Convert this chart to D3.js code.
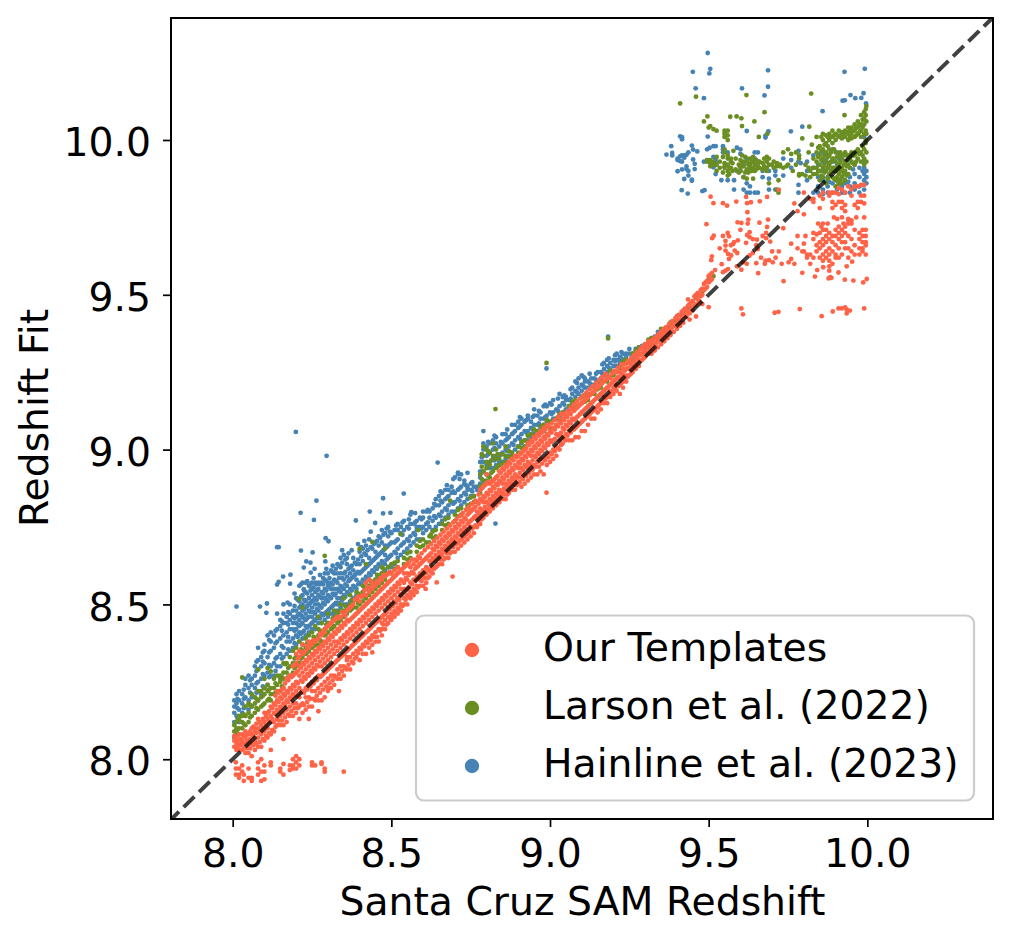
<!DOCTYPE html>
<html><head><meta charset="utf-8">
<script src="https://cdnjs.cloudflare.com/ajax/libs/d3/7.8.5/d3.min.js"></script>
<style>html,body{margin:0;padding:0;background:#fff}svg{display:block}text{font-family:"DejaVu Sans";fill:#000}</style>
</head><body><svg id="c" width="1012" height="941"></svg>
<script>
// every row: [x, y, y, y ...]  (all y values read at that x)
const hainline = [
[9.497,10.281],[9.45,10.22],[9.505,10.23],[9.502,10.215],[9.687,10.225],[9.928,10.22],[9.992,10.23],[9.459,10.167],[9.485,10.135],[9.605,10.167],[9.687,10.172],[9.676,10.144],[9.988,10.151],[9.947,10.145],[9.962,10.135],[9.981,10.136],[9.922,10.127],[9.929,10.128],[9.996,10.118],[9.859,10.093],[9.62,10.029],[9.688,10.028],[9.679,10.014,10.008],[9.759,10.028],[9.795,10.043],[9.497,10.011],
[9.367,9.953],[9.382,9.98],[9.385,9.958,9.95],[9.402,9.94,9.935,9.899],[9.41,10.012,9.947,9.932],[9.416,10.009,10.002,9.95,9.93,9.905],[9.423,9.943,9.95,9.874],[9.43,9.952,9.915,9.906],[9.436,9.96,9.885,9.9],[9.447,9.982,9.872,9.868],[9.451,9.969,9.937],[9.456,9.923,9.906],[9.464,9.963],[9.415,9.838],[9.434,9.827],[9.48,9.835],[9.487,9.838],
[9.485,9.93],[9.495,9.935,9.97],[9.503,9.975,9.93],[9.515,9.98,9.945,9.912],[9.522,9.98,9.94,9.93,9.89],[9.545,9.98,9.97,9.96],[9.54,9.87],[9.56,9.87,9.96],[9.58,9.87,9.84],[9.589,9.975,9.9],[9.6,9.97,9.955,9.915,9.9],[9.61,9.88,9.92,9.84],[9.62,9.86,9.83,9.94],[9.63,9.85,9.83,9.92],[9.645,9.96,9.94,9.83],[9.655,9.96,9.93,9.83],[9.67,9.9,9.88],[9.69,9.875,9.84,9.9],[9.71,9.885,9.84,9.9],[9.735,9.94,9.885],[9.76,9.935,9.91],[9.783,9.965,9.93,9.855,9.83],[9.79,9.925],[9.81,9.93,9.9,9.87],[9.83,9.95,9.91,9.83],[9.845,9.955,9.92,9.88,9.85,9.83],[9.86,9.96,9.93,9.9,9.87,9.84,9.825],[9.875,9.95,9.91,9.88,9.85,9.83],[9.89,9.97,9.93,9.9,9.86,9.83],[9.905,9.96,9.92,9.87,9.84],[9.92,9.95,9.9,9.88,9.85,9.83],[9.93,9.93,9.89,9.86,9.83],[9.945,9.95,9.91,9.88,9.85,9.83],[9.96,9.92,9.89,9.86,9.84],[9.975,9.96,9.91,9.88,9.85,9.83],[9.99,10.01,9.93,9.91,9.89,9.87,9.84],[9.997,9.9,9.88,9.86],
[8.199,9.057],[8.296,8.98],[8.264,8.835],[8.214,8.796],[8.256,8.773],[8.474,8.843],[8.539,8.858],[8.432,8.8],[8.474,8.794],[8.497,8.796],[8.388,8.771],[8.449,8.763],[8.563,8.798],[8.012,8.493],[8.086,8.493],[8.108,8.503],[8.106,8.473],[8.173,8.506],[8.14,8.685],[8.145,8.685],[8.215,8.674],[8.252,8.668],[8.293,8.714],[8.302,8.704],[8.292,8.639],[8.232,8.639],[8.245,8.635],[8.224,8.619],[8.258,8.615],[8.246,8.603],[8.159,8.59],[8.182,8.596],[8.145,8.573],[8.14,8.564],[8.181,8.567],[8.224,8.549],[8.828,8.761],[8.79,9.06],[8.646,8.958],[8.71,8.926],[8.72,8.92],[8.74,8.925],[8.948,9.16],[8.989,9.262],[9.183,9.365],
[8.005,8.12,8.15,8.17,8.19],[8.012,8.14,8.18,8.21],[8.02,8.12,8.16,8.19,8.22],[8.03,8.15,8.18,8.21],[8.04,8.14,8.17,8.2,8.24,8.26],[8.05,8.16,8.19,8.23,8.27],[8.06,8.17,8.2,8.24,8.26],[8.07,8.2,8.23,8.27,8.3],[8.08,8.19,8.22,8.25,8.29,8.32,8.36],[8.09,8.21,8.26,8.3,8.33],[8.1,8.23,8.27,8.31,8.35,8.37],[8.11,8.24,8.28,8.33,8.4],[8.12,8.27,8.3,8.35,8.38,8.41],[8.13,8.27,8.31,8.36,8.4],[8.14,8.3,8.33,8.38,8.42,8.47],[8.15,8.3,8.34,8.39,8.43,8.45],[8.16,8.33,8.36,8.4,8.44,8.47,8.5],[8.17,8.34,8.38,8.41,8.44,8.46],[8.18,8.35,8.38,8.42,8.45,8.47,8.5],[8.19,8.36,8.39,8.42,8.44,8.46,8.48],[8.2,8.37,8.4,8.42,8.44,8.46,8.48,8.52],[8.21,8.38,8.41,8.43,8.45,8.47,8.49,8.51,8.56],[8.22,8.39,8.41,8.44,8.46,8.48,8.5,8.53,8.57],[8.23,8.4,8.43,8.45,8.47,8.49,8.51,8.54,8.57],[8.24,8.41,8.43,8.46,8.48,8.5,8.52,8.56],[8.25,8.42,8.44,8.46,8.49,8.51,8.53,8.55,8.57],[8.26,8.42,8.45,8.47,8.5,8.52,8.54,8.57],[8.27,8.44,8.46,8.48,8.5,8.53,8.55,8.57],[8.28,8.44,8.47,8.49,8.52,8.54,8.57],[8.29,8.45,8.47,8.5,8.52,8.55,8.58,8.6],[8.3,8.46,8.48,8.51,8.53,8.56,8.57,8.6],[8.31,8.47,8.49,8.52,8.55,8.57,8.61],[8.32,8.47,8.5,8.53,8.55,8.58,8.6],[8.33,8.48,8.5,8.52,8.55,8.57,8.6,8.63],[8.34,8.49,8.52,8.54,8.56,8.6,8.62,8.65],[8.35,8.5,8.53,8.55,8.58,8.6,8.66],[8.36,8.5,8.54,8.56,8.59,8.63,8.65],[8.37,8.51,8.55,8.58,8.6,8.62],[8.38,8.52,8.56,8.59,8.61,8.65],[8.39,8.53,8.55,8.58,8.6,8.63],[8.4,8.53,8.57,8.6,8.63,8.67],[8.41,8.54,8.58,8.61,8.64,8.68],[8.42,8.55,8.59,8.62,8.66,8.69],[8.43,8.56,8.6,8.63,8.65,8.71],[8.44,8.57,8.61,8.64,8.68],[8.45,8.58,8.62,8.65,8.67,8.7],[8.46,8.59,8.63,8.66,8.69,8.72],[8.47,8.6,8.64,8.67,8.7,8.74],[8.48,8.61,8.63,8.66,8.69,8.73],[8.49,8.62,8.65,8.69,8.72,8.75],[8.5,8.62,8.66,8.7,8.73],[8.51,8.63,8.67,8.7,8.74],[8.52,8.65,8.68,8.71,8.74,8.76],[8.53,8.66,8.69,8.73,8.75],[8.54,8.67,8.7,8.74,8.77],[8.55,8.68,8.71,8.75],[8.56,8.69,8.72,8.76,8.79],[8.57,8.7,8.73,8.76],[8.58,8.71,8.74,8.77,8.75],[8.59,8.71,8.75,8.78],[8.6,8.73,8.75,8.78,8.8],[8.61,8.74,8.76,8.8],[8.62,8.75,8.78,8.8],[8.63,8.74,8.77,8.81],[8.64,8.75,8.78,8.82,8.84],[8.65,8.76,8.79,8.82,8.85],[8.66,8.77,8.8,8.83,8.86],[8.67,8.78,8.81,8.84,8.87],[8.68,8.79,8.82,8.85,8.87],[8.69,8.8,8.83,8.86,8.88],[8.7,8.8,8.83,8.86,8.91],[8.71,8.81,8.84,8.87,8.92],[8.72,8.82,8.85,8.88],[8.73,8.83,8.86,8.89,8.9],[8.74,8.84,8.87,8.88],[8.75,8.85,8.87,8.89],[8.76,8.85,8.88,8.85],[8.77,8.87,8.88],[8.78,8.89,8.91,8.93,8.96],[8.79,8.9,8.93,8.96,9,9.02],[8.8,8.92,8.95,8.98,9.01],[8.81,8.94,8.96,8.99,9.02],[8.82,8.94,8.97,9,9.03],[8.83,8.95,8.98,9.02,9.04],[8.84,8.96,8.98,9.01],[8.85,8.96,8.99,9.02,9.05],[8.86,8.97,9,9.03,9.05],[8.87,8.98,9.01,9.04],[8.88,8.99,9.02,9.05,9.08],[8.89,9,9.03,9.06,9.08],[8.9,9.01,9.04,9.07,9.09],[8.91,9.02,9.05,9.08,9.1],[8.92,9.03,9.06,9.09],[8.93,9.03,9.06,9.1,9.11],[8.94,9.04,9.07,9.09],[8.95,9.05,9.08,9.11,9.13],[8.96,9.06,9.08,9.11],[8.97,9.07,9.1,9.12],[8.98,9.08,9.1,9.14],[8.99,9.09,9.11,9.14],[9,9.09,9.12,9.15],[9.01,9.1,9.12,9.16],[9.02,9.1,9.13],[9.03,9.11,9.14,9.18],[9.04,9.12,9.15,9.17],[9.05,9.13,9.16,9.17],[9.06,9.14,9.16],[9.07,9.15,9.18,9.2],[9.08,9.17,9.19,9.22],[9.09,9.18,9.2,9.23],[9.1,9.19,9.21,9.24],[9.11,9.2,9.22,9.23],[9.12,9.2,9.22],[9.13,9.21,9.23],[9.14,9.21,9.23],[9.15,9.22,9.25],[9.16,9.23,9.25],[9.17,9.24,9.26,9.28],[9.18,9.25,9.27,9.29],[9.19,9.26,9.28],[9.2,9.27,9.29],[9.21,9.27,9.29,9.31],[9.22,9.28,9.3,9.29],[9.23,9.29,9.31],[9.24,9.3,9.31],[9.26,9.31,9.3],[9.28,9.33,9.31],[9.3,9.34,9.32],[9.31,9.35],[9.32,9.36,9.34],[9.34,9.37,9.38],[9.36,9.38],[9.38,9.41,9.39],[9.4,9.42,9.43],[9.42,9.44],[9.44,9.46]
];
const hainlineExtra = [
[8.015,8.135,8.165,8.195],[8.035,8.165,8.195,8.225],[8.055,8.175,8.215,8.255],[8.075,8.215,8.245,8.285,8.315],[8.095,8.235,8.275,8.315,8.345],[8.115,8.265,8.305,8.345,8.385],[8.135,8.285,8.325,8.375,8.415],[8.155,8.325,8.365,8.415,8.445],[8.175,8.355,8.395,8.435,8.475],[8.195,8.375,8.415,8.455,8.495,8.535],[8.205,8.395,8.435,8.465,8.515],[8.215,8.405,8.435,8.465,8.495,8.525,8.565],[8.225,8.415,8.455,8.485,8.515,8.545],[8.235,8.425,8.455,8.495,8.535,8.575],[8.245,8.435,8.475,8.505,8.545,8.565],[8.255,8.445,8.475,8.515,8.555,8.585],[8.265,8.455,8.485,8.515,8.545,8.565],[8.275,8.455,8.495,8.525,8.565,8.595],[8.285,8.465,8.505,8.535,8.565,8.585],[8.295,8.475,8.515,8.545,8.575,8.615],[8.305,8.485,8.525,8.555,8.585],[8.315,8.495,8.535,8.565,8.605,8.625],[8.325,8.505,8.535,8.575,8.615],[8.335,8.505,8.545,8.585,8.625],[8.345,8.515,8.555,8.585,8.635,8.675],[8.355,8.525,8.565,8.605,8.645],[8.365,8.535,8.575,8.615,8.665],[8.375,8.545,8.585,8.625,8.675],[8.385,8.555,8.595,8.635],[8.395,8.565,8.605,8.645,8.695],[8.405,8.565,8.605,8.655,8.685],[8.415,8.575,8.615,8.665,8.705],[8.425,8.585,8.625,8.675],[8.435,8.595,8.635,8.685,8.735],[8.445,8.605,8.645,8.695],[8.455,8.615,8.655,8.705],[8.465,8.625,8.665,8.715],[8.475,8.635,8.675,8.725],[8.485,8.645,8.685,8.745],[8.495,8.655,8.695,8.735],[8.515,8.665,8.705,8.755],[8.535,8.695,8.725,8.765],[8.555,8.705,8.745,8.775],[8.575,8.725,8.765,8.795],[8.595,8.745,8.775],[8.615,8.765,8.805],[8.635,8.785,8.825],[8.655,8.785,8.835,8.865],[8.675,8.805,8.845,8.885],[8.695,8.825,8.865,8.905],[8.715,8.835,8.875,8.905],[8.735,8.855,8.885],[8.755,8.865,8.895],[8.785,8.925,8.975],[8.805,8.945,8.985,9.025],[8.825,8.965,9.005,9.045],[8.845,8.985,9.025],[8.865,8.995,9.035,9.065],[8.885,9.015,9.055],[8.905,9.035,9.075,9.105],[8.925,9.055,9.095],[8.945,9.065,9.105],[8.965,9.085,9.125],[8.985,9.105,9.145],[9.005,9.115,9.145],[9.025,9.125,9.165],[9.045,9.145,9.175],[9.065,9.165,9.195],[9.085,9.185,9.215],[9.105,9.205,9.235],[9.125,9.215,9.245],[9.145,9.225,9.245],[9.165,9.245,9.275],[9.185,9.265,9.295],[9.205,9.285,9.305],[9.225,9.295,9.315],[9.25,9.31,9.325],[9.27,9.325],[9.29,9.335],[9.33,9.365],[9.37,9.395],[9.41,9.435],[9.43,9.455],
[9.87,9.935,9.865],[9.88,9.925,9.865],[9.91,9.94,9.855],[9.94,9.935,9.865],[9.955,9.905,9.845],[9.985,9.9,9.855]
];
const larson = [
[9.41,10.118],[9.46,10.14],[9.619,10.145],[9.823,10.15],[9.928,10.08],[9.496,10.076],[9.568,10.075],[9.588,10.076],[9.603,10.07],[9.644,10.06],[9.676,10.09],[9.485,10.06],[9.5,10.04],[9.505,10.045],[9.515,10.035],[9.525,10.03],[9.55,10.03,10.02,10.01],[9.56,10.03,10.015,10],[9.605,10.045],[9.658,10.01],[9.685,10.02],[9.795,10.005],[9.817,10.043],[9.55,9.97,9.96],[9.56,9.95],[9.57,9.94,9.93,9.91],[9.578,9.965],[9.495,9.935,9.93],[9.505,9.925,9.915,9.935],[9.515,9.93,9.92],[9.55,9.925,9.915,9.91],[9.56,9.94,9.92,9.9,9.885],[9.6,9.935,9.91,9.9],[9.61,9.93,9.915,9.88],[9.62,9.93,9.905,9.875],[9.63,9.94,9.92,9.91],[9.64,9.945,9.93,9.91,9.875],[9.66,9.93,9.91],[9.683,9.945,9.93,9.91,9.9],[9.69,9.94,9.92,9.86],[9.7,9.92],[9.715,9.925,9.915,9.84],[9.72,9.87,9.83],[9.735,9.96,9.91],[9.75,9.97,9.92],[9.76,9.955],[9.765,9.9],[9.785,9.95,9.94,9.89,9.885],[9.795,9.89],[9.82,9.9,9.88],[9.825,9.985],[9.84,10.01,9.96,9.93,9.91,9.89],[9.85,9.98,9.95,9.92,9.9,9.87],[9.86,10.02,10,9.97,9.94,9.91,9.88],[9.87,10.015,9.99,9.96,9.93,9.9,9.86],[9.88,10.02,10,9.97,9.95,9.92,9.89],[9.89,10.03,10.01,9.99,9.94,9.91,9.88],[9.9,10.02,10,9.96,9.93,9.9,9.87,9.85],[9.91,10.03,10.01,9.95,9.92,9.89,9.86],[9.92,10.025,10.005,9.94,9.91,9.88,9.86],[9.93,10.03,10.01,9.96,9.93,9.9,9.87],[9.94,10.04,10.02,10,9.95,9.92,9.89],[9.95,10.04,10.02,10.005,9.96,9.93],[9.96,10.05,10.03,10.01,9.95,9.92],[9.97,10.06,10.04,10.02,9.97,9.94],[9.98,10.08,10.05,10.03,10.01,9.96,9.93],[9.99,10.09,10.07,10.05,10.02,9.97,9.94,9.92],[9.995,10.1,10.08,10.03,10,9.99],
[8.624,8.725],[8.685,8.835],[8.828,9.131],[8.989,9.28],[9.183,9.359],[8.11,8.295],[8.21,8.518],[8.29,8.657],[8.44,8.702],[8.585,8.74],[8.529,8.727],[8.1,8.26],[8.03,8.264],[8.15,8.27],[8.12,8.284],[8.165,8.307],[8.08,8.29],[8.22,8.49],[8.27,8.46],[8.4,8.68],[8.48,8.68],[8.42,8.63],[8.61,8.7],
[8.005,8.07,8.09,8.11],[8.012,8.08,8.1,8.12],[8.02,8.08,8.1,8.13,8.14],[8.03,8.1,8.12,8.14],[8.04,8.11,8.14,8.17],[8.05,8.12,8.15,8.18],[8.06,8.14,8.17,8.21],[8.07,8.15,8.18,8.2],[8.08,8.16,8.19,8.22],[8.09,8.17,8.2,8.22],[8.1,8.18,8.21,8.23],[8.11,8.19,8.22,8.24],[8.12,8.19,8.21,8.23],[8.13,8.21,8.23,8.26],[8.14,8.22,8.24,8.27],[8.15,8.22,8.25,8.26],[8.16,8.23,8.26,8.28,8.31],[8.17,8.26,8.28,8.31],[8.18,8.27,8.3,8.33],[8.19,8.28,8.31,8.35],[8.2,8.3,8.33,8.36],[8.21,8.31,8.33,8.38],[8.22,8.33,8.35,8.37],[8.23,8.34,8.36,8.39],[8.24,8.35,8.37,8.4],[8.25,8.36,8.38,8.41],[8.26,8.37,8.39,8.43],[8.27,8.37,8.4,8.42],[8.28,8.38,8.41,8.44],[8.29,8.4,8.42],[8.3,8.41,8.44,8.47],[8.31,8.42,8.44],[8.32,8.43,8.46,8.48],[8.33,8.44,8.47],[8.34,8.45,8.48,8.5],[8.35,8.46,8.48,8.52],[8.36,8.47,8.49],[8.37,8.48,8.5,8.53],[8.38,8.49,8.51],[8.39,8.49,8.52,8.54],[8.4,8.5,8.53],[8.41,8.51,8.54,8.56],[8.42,8.52,8.55],[8.43,8.53,8.56,8.58],[8.44,8.54,8.57],[8.45,8.55,8.58],[8.46,8.56,8.59],[8.47,8.57,8.6,8.62],[8.48,8.58,8.6],[8.49,8.6,8.62],[8.5,8.6,8.63],[8.52,8.62,8.64],[8.54,8.63,8.65],[8.56,8.65,8.67],[8.58,8.67,8.69],[8.6,8.69,8.71],[8.62,8.7,8.72],[8.64,8.72,8.74],[8.66,8.74,8.76],[8.68,8.76,8.78],[8.7,8.77,8.79],[8.72,8.79,8.81],[8.74,8.81,8.82],[8.76,8.83,8.85],[8.78,8.86,8.88,8.92],[8.79,8.89,8.93,8.98,9.01],[8.8,8.9,8.94,8.96,9],[8.81,8.91,8.95,8.99],[8.82,8.93,8.98,9.02],[8.83,8.94,8.97,9],[8.84,8.95,8.97],[8.86,8.96,8.98,9.01],[8.88,8.98,8.99],[8.9,8.99,9.01],[8.92,9.01,9.03],[8.94,9.03,9.05],[8.96,9.05,9.06],[8.98,9.06,9.08],[9,9.07,9.09],[9.02,9.08,9.1],[9.04,9.1,9.12],[9.06,9.12,9.14],[9.08,9.14,9.16],[9.1,9.15,9.17],[9.12,9.16,9.18],[9.14,9.18,9.2],[9.16,9.2,9.22],[9.18,9.22,9.24],[9.2,9.24,9.25],[9.22,9.26,9.27],[9.24,9.28,9.29],[9.26,9.29,9.31],[9.28,9.31,9.33],[9.3,9.33,9.34],[9.32,9.34,9.36],[9.34,9.36,9.37],[9.36,9.38,9.39],[9.38,9.4,9.41],[9.4,9.42],[9.42,9.44,9.43],[9.44,9.46],[9.46,9.49],[9.48,9.51],[9.5,9.55],[9.515,9.56]
];
const larsonExtra = [
[8.015,8.095,8.125],[8.035,8.115,8.145],[8.055,8.135,8.175],[8.075,8.165,8.195],[8.095,8.175,8.205],[8.115,8.195,8.225],[8.135,8.215,8.245],[8.155,8.235,8.265],[8.175,8.265,8.295],[8.195,8.295,8.325],[8.215,8.325,8.355],[8.235,8.345,8.375],[8.255,8.365,8.395],[8.275,8.385,8.415],[8.295,8.405,8.435],[8.315,8.425,8.455],[8.335,8.445,8.475],[8.355,8.465,8.495],[8.375,8.485,8.515],[8.395,8.505,8.535],[8.415,8.525,8.555],[8.435,8.545,8.575],[8.455,8.565,8.595],[8.475,8.585,8.615],[8.51,8.615,8.635],[8.55,8.645,8.665],[8.59,8.685,8.705],[8.63,8.715,8.735],[8.67,8.755,8.775],[8.71,8.785,8.805],[8.75,8.825,8.845],[8.785,8.875,8.905,8.945,8.985],[8.805,8.915,8.955,8.995],[8.815,8.925,8.965],[8.835,8.945,8.985],[8.85,8.955,8.985],[8.87,8.975,8.995],[8.91,9.005,9.025],[8.93,9.025,9.045],[8.95,9.045,9.065],[8.97,9.055,9.075],[8.99,9.075,9.095],[9.03,9.095,9.115],[9.07,9.135,9.155],[9.11,9.155,9.175],[9.15,9.195,9.215],[9.19,9.235,9.255],[9.23,9.275,9.285],[9.27,9.305,9.32],[9.31,9.34,9.355],[9.35,9.375,9.39],[9.39,9.415],
[9.525,9.945,9.92,9.9],[9.535,9.93,9.91],[9.545,9.945,9.895],[9.565,9.91,9.89],[9.575,9.925,9.9],[9.585,9.94,9.905],[9.595,9.92,9.895],[9.605,9.95,9.925],[9.615,9.945,9.895],[9.625,9.92,9.895],[9.635,9.93,9.9],[9.645,9.92,9.9],[9.65,9.935,9.905],[9.655,9.915,9.925],[9.67,9.925,9.905],[9.675,9.94,9.915],[9.705,9.93,9.91],[9.725,9.915,9.92],[9.745,9.915],[9.775,9.92,9.96],[9.805,9.885,9.92],[9.815,9.96,9.91],[9.83,9.94,9.91,9.89],
[9.845,9.975,9.945,9.9],[9.855,10.01,9.965,9.935,9.885],[9.865,9.985,9.95,9.92,9.895],[9.875,10.01,9.98,9.945,9.91,9.875],[9.885,10.01,9.96,9.93,9.9],[9.895,10.015,9.97,9.94,9.91,9.875],[9.905,10.015,9.945,9.91,9.88],[9.915,10.015,9.96,9.93,9.9,9.87],[9.925,10.02,9.95,9.92,9.89],[9.935,10.025,9.95,9.915,9.885],[9.945,10.03,10.01,9.94,9.91],[9.955,10.03,9.95,9.925],[9.965,10.04,10.015,9.96,9.93],[9.975,10.05,10.025,9.955],[9.985,10.065,10.04,9.98,9.95],[9.997,10.11,10.06,10.02,9.96,9.93]
];
const templates = [
[9.506,9.817],[9.515,9.796],[9.545,9.796],[9.558,9.788],[9.587,9.801],[9.621,9.796],[9.633,9.799],[9.618,9.816],[9.661,9.802],[9.684,9.816],[9.721,9.839],[9.622,9.767],[9.493,9.728],[9.591,9.734],[9.603,9.732],[9.625,9.743],[9.623,9.73],[9.66,9.733],[9.687,9.743],[9.684,9.719],[9.735,9.715],[9.516,9.691],[9.511,9.683],[9.56,9.7],[9.564,9.689],[9.629,9.702],[9.621,9.693],[9.681,9.7],[9.629,9.686],[9.639,9.68],[9.652,9.678],[9.553,9.674,9.659,9.643],[9.58,9.67],[9.592,9.676],[9.577,9.664],[9.618,9.668],[9.681,9.683],[9.694,9.672],[9.561,9.632],[9.582,9.643],[9.59,9.635],[9.655,9.648],[9.639,9.635],[9.629,9.627],[9.608,9.605],[9.51,9.624],[9.508,9.612],[9.564,9.616],[9.571,9.627],[9.62,9.6],[9.65,9.602],[9.677,9.6],[9.679,9.61],[9.69,9.612],[9.702,9.605],[9.711,9.62],[9.721,9.64],[9.752,9.605],[9.76,9.616],[9.541,9.599],[9.561,9.583],[9.545,9.573],[9.553,9.578],[9.589,9.592],[9.603,9.581],[9.656,9.57],[9.736,9.544],[9.795,9.571],[9.835,9.559],[9.861,9.589],[9.88,9.592],[9.88,9.578],[9.842,9.58],[9.909,9.572],[9.935,9.592],[9.952,9.607],[9.929,9.549],[9.956,9.546],[9.987,9.54],[9.998,9.551],[9.883,9.557],[9.878,9.553],[9.887,9.555],
[9.603,9.456],[9.608,9.437],[9.708,9.442],[9.72,9.445],[9.787,9.454],[9.856,9.431],[9.891,9.446],[9.909,9.456],[9.919,9.456],[9.93,9.459],[9.935,9.452],[9.945,9.449],[9.935,9.44],[9.99,9.456],
[9.77,9.795],[9.78,9.77],[9.8,9.83,9.76],[9.82,9.81],[9.83,9.81,9.8],[9.85,9.78,9.82],[9.86,9.83,9.81,9.73,9.71],[9.88,9.83,9.82],[9.89,9.8,9.83,9.78],[9.9,9.79,9.83],[9.91,9.8,9.845,9.825],[9.92,9.8,9.78,9.84,9.75],[9.93,9.83,9.79,9.77],[9.94,9.85,9.745,9.73],[9.95,9.84,9.82,9.74],[9.96,9.85,9.79],[9.97,9.85,9.8,9.78],[9.98,9.855,9.82,9.8],[9.99,9.855,9.82,9.795],
[9.76,9.665],[9.78,9.69,9.65],[9.8,9.665,9.64],[9.81,9.63,9.62],[9.82,9.63,9.6],[9.83,9.7,9.68,9.62],[9.84,9.695,9.66,9.64],[9.85,9.7,9.67,9.65,9.62],[9.86,9.68,9.66,9.63,9.61],[9.87,9.71,9.69,9.67,9.64,9.62],[9.88,9.7,9.68,9.65,9.63,9.61],[9.89,9.69,9.67,9.64,9.6],[9.9,9.71,9.69,9.66,9.63,9.62],[9.91,9.72,9.7,9.68,9.65,9.62],[9.92,9.71,9.69,9.67,9.63],[9.93,9.72,9.7,9.67,9.65],[9.94,9.74,9.69,9.65,9.62],[9.95,9.73,9.68,9.64],[9.96,9.71,9.66,9.63],[9.975,9.7,9.68,9.65,9.63],[9.985,9.71,9.69,9.67,9.65,9.64],[9.995,9.71,9.69,9.67,9.66,9.63],
[8.989,8.861],[8.693,8.59],[8.643,8.571],[8.608,8.55],[8.52,8.52],[8.36,8.33],[8.335,8.22],[8.47,8.4],[8.44,8.345],[8.395,8.342],[8.3,8.23],[8.27,8.155],[8.24,8.13],[8.16,8.065],[8.12,8.03],
[8.01,7.99,7.97,7.95],[8.02,7.97,7.95,7.94],[8.03,7.98,7.96],[8.035,7.93,7.95],[8.05,7.97,7.94],[8.06,7.94,7.93],[8.08,7.99,7.97,7.95],[8.09,8,7.96,7.93],[8.1,7.98,7.96,7.935],[8.12,7.98,7.99],[8.15,7.97,7.96],[8.16,7.985,7.95],[8.18,7.98,7.965],[8.19,8,7.98,7.97],[8.2,8.01,7.99,7.97],[8.21,8,7.98],[8.25,7.99,7.98],[8.26,7.98],[8.28,7.99,7.985],[8.29,7.97,7.96],[8.35,7.96],
[8.005,8.04,8.06,8.075],[8.012,8.03,8.05,8.07],[8.02,8.03,8.05,8.08],[8.03,8.03,8.05,8.08,8.06],[8.04,8.02,8.05,8.07,8.09],[8.05,8.02,8.05,8.08],[8.06,8.01,8.05,8.08,8.1],[8.07,8.03,8.06,8.09,8.1],[8.08,8.04,8.07,8.1,8.13],[8.09,8.04,8.08,8.11],[8.1,8.06,8.09,8.12,8.15],[8.11,8.07,8.1,8.13,8.15],[8.12,8.08,8.12,8.14,8.17],[8.13,8.09,8.12,8.15,8.18],[8.14,8.11,8.13,8.16,8.19,8.22],[8.15,8.11,8.14,8.17,8.2],[8.16,8.11,8.15,8.18,8.21,8.23],[8.17,8.12,8.16,8.19,8.22,8.26],[8.18,8.14,8.17,8.2,8.23,8.27],[8.19,8.14,8.18,8.21,8.24,8.27,8.3],[8.2,8.15,8.18,8.22,8.25,8.28,8.31,8.34],[8.21,8.13,8.17,8.2,8.23,8.27,8.3,8.33,8.35],[8.22,8.15,8.18,8.22,8.25,8.28,8.31,8.34,8.37],[8.23,8.16,8.2,8.23,8.26,8.29,8.32,8.35],[8.24,8.17,8.2,8.24,8.27,8.3,8.33,8.36,8.38],[8.25,8.17,8.22,8.25,8.28,8.31,8.34,8.37],[8.26,8.19,8.22,8.26,8.29,8.32,8.35,8.38],[8.27,8.19,8.23,8.27,8.3,8.33,8.36,8.39],[8.28,8.19,8.24,8.27,8.3,8.34,8.37,8.4],[8.29,8.2,8.25,8.28,8.31,8.35,8.38,8.41],[8.3,8.22,8.26,8.29,8.32,8.36,8.39,8.43],[8.31,8.23,8.27,8.3,8.33,8.37,8.4,8.44],[8.32,8.24,8.27,8.31,8.34,8.38,8.41,8.45],[8.33,8.26,8.29,8.32,8.35,8.38,8.42,8.46],[8.34,8.26,8.3,8.33,8.36,8.39,8.43,8.46],[8.35,8.27,8.3,8.34,8.37,8.4,8.44,8.47],[8.36,8.29,8.32,8.35,8.38,8.41,8.45,8.48],[8.37,8.29,8.33,8.36,8.39,8.42,8.45,8.49],[8.38,8.31,8.34,8.37,8.4,8.43,8.46,8.5],[8.39,8.33,8.35,8.38,8.41,8.44,8.47,8.52],[8.4,8.32,8.36,8.39,8.42,8.45,8.48,8.51],[8.41,8.34,8.37,8.4,8.43,8.46,8.49,8.53],[8.42,8.34,8.38,8.41,8.44,8.47,8.5,8.53,8.57],[8.43,8.36,8.39,8.42,8.45,8.48,8.51,8.54,8.58],[8.44,8.37,8.4,8.43,8.46,8.49,8.52,8.55,8.57],[8.45,8.38,8.41,8.44,8.47,8.5,8.53,8.56],[8.46,8.38,8.42,8.45,8.48,8.51,8.54,8.57],[8.47,8.42,8.44,8.46,8.49,8.52,8.55,8.58],[8.48,8.42,8.45,8.47,8.5,8.53,8.56,8.59],[8.49,8.44,8.46,8.49,8.51,8.54,8.57,8.6],[8.5,8.45,8.47,8.5,8.52,8.55,8.58,8.6],[8.51,8.46,8.48,8.51,8.53,8.56,8.59,8.61],[8.52,8.47,8.49,8.52,8.54,8.57,8.6,8.62],[8.53,8.48,8.5,8.53,8.55,8.58,8.61],[8.54,8.5,8.52,8.55,8.57,8.6,8.62],[8.55,8.5,8.53,8.55,8.58,8.6,8.63],[8.56,8.52,8.54,8.57,8.6,8.62],[8.57,8.53,8.55,8.58,8.6,8.63],[8.58,8.54,8.56,8.59,8.62,8.64],[8.59,8.56,8.58,8.6,8.63,8.65],[8.6,8.56,8.59,8.61,8.64],[8.61,8.57,8.6,8.62,8.65],[8.62,8.59,8.61,8.64,8.66],[8.63,8.6,8.62,8.65,8.68],[8.64,8.62,8.64,8.66,8.69],[8.65,8.63,8.65,8.67,8.7],[8.66,8.63,8.66,8.68,8.71],[8.67,8.65,8.67,8.69,8.72],[8.68,8.65,8.68,8.7,8.73],[8.69,8.67,8.69,8.71,8.74],[8.7,8.67,8.7,8.72,8.75],[8.71,8.68,8.7,8.73,8.76],[8.72,8.69,8.71,8.74,8.77],[8.73,8.7,8.72,8.75,8.78],[8.74,8.71,8.73,8.76,8.79],[8.75,8.72,8.75,8.77,8.8],[8.76,8.73,8.75,8.78,8.81],[8.77,8.75,8.78,8.8,8.83],[8.78,8.76,8.79,8.81,8.84,8.87],[8.79,8.78,8.8,8.83,8.85,8.88],[8.8,8.79,8.81,8.83,8.86,8.89,8.92],[8.81,8.8,8.82,8.84,8.87,8.89],[8.82,8.81,8.83,8.85,8.88,8.9],[8.83,8.82,8.84,8.86,8.89,8.91],[8.84,8.83,8.85,8.87,8.9,8.93],[8.85,8.84,8.86,8.89,8.91,8.94],[8.86,8.84,8.87,8.89,8.92,8.95],[8.87,8.86,8.88,8.9,8.93,8.96],[8.88,8.87,8.89,8.91,8.94,8.97],[8.89,8.87,8.9,8.92,8.95,8.98],[8.9,8.89,8.91,8.94,8.96,8.98],[8.91,8.88,8.91,8.94,8.97,8.99],[8.92,8.89,8.92,8.95,8.98,9],[8.93,8.9,8.94,8.96,8.99,9.02],[8.94,8.91,8.95,8.98,9,9.03],[8.95,8.92,8.95,8.98,9.01,9.04],[8.96,8.92,8.96,8.99,9.02,9.05],[8.97,8.93,8.97,9,9.03,9.06],[8.98,8.92,8.97,9.01,9.04,9.07],[8.99,8.95,8.98,9.02,9.05,9.08],[9,8.96,8.99,9.03,9.06],[9.01,8.97,9,9.03,9.07],[9.02,8.98,9.01,9.05,9.08],[9.03,9,9.03,9.05,9.09],[9.04,9.02,9.04,9.07,9.1],[9.05,9.03,9.05,9.08,9.11],[9.06,9.03,9.06,9.09,9.12],[9.07,9.03,9.07,9.1,9.13],[9.08,9.04,9.07,9.1,9.13],[9.09,9.04,9.08,9.11,9.14],[9.1,9.06,9.09,9.12,9.15],[9.11,9.06,9.1,9.13,9.16],[9.12,9.08,9.11,9.14,9.17],[9.13,9.1,9.12,9.15,9.18],[9.14,9.1,9.13,9.16,9.19],[9.15,9.12,9.14,9.17,9.2],[9.16,9.13,9.15,9.18,9.21],[9.17,9.15,9.17,9.19,9.22],[9.18,9.15,9.17,9.2,9.23],[9.19,9.17,9.19,9.21,9.23],[9.2,9.18,9.2,9.22,9.25],[9.21,9.19,9.21,9.23,9.25],[9.22,9.18,9.21,9.23,9.25],[9.23,9.2,9.22,9.24,9.26],[9.24,9.22,9.24,9.26],[9.25,9.24,9.26,9.28],[9.26,9.25,9.27],[9.27,9.26,9.28,9.3],[9.28,9.27,9.29,9.31],[9.29,9.29,9.31,9.33],[9.3,9.3,9.32,9.34],[9.31,9.31,9.33,9.35],[9.32,9.31,9.33,9.35],[9.33,9.32,9.34,9.36],[9.34,9.33,9.35,9.37],[9.35,9.34,9.36,9.38],[9.36,9.35,9.37,9.39],[9.37,9.36,9.38],[9.38,9.37,9.39],[9.39,9.38,9.4],[9.4,9.39,9.41,9.43],[9.41,9.4,9.42],[9.42,9.41,9.43,9.45],[9.43,9.43,9.45],[9.44,9.44,9.47,9.42],[9.45,9.45,9.48],[9.46,9.47,9.5,9.43],[9.47,9.48,9.5],[9.48,9.5,9.52,9.47],[9.49,9.52,9.54],[9.5,9.54,9.56,9.46],[9.51,9.55,9.57],[9.52,9.58]
];
const templatesExtra = [
[8.015,8.04,8.06],[8.025,8.045,8.065],[8.035,8.035,8.075],[8.045,8.035,8.06,8.08],[8.055,8.035,8.065,8.09],[8.065,8.045,8.075,8.105],[8.075,8.05,8.085,8.115],[8.085,8.055,8.09,8.12],[8.095,8.065,8.1,8.13],[8.105,8.075,8.11,8.14],[8.115,8.085,8.12,8.155],[8.125,8.095,8.13,8.165],[8.135,8.105,8.145,8.175,8.205],[8.145,8.125,8.155,8.185,8.215],[8.155,8.125,8.165,8.195,8.225],[8.165,8.135,8.175,8.205,8.245],[8.175,8.145,8.185,8.215,8.255],[8.185,8.155,8.195,8.225,8.265],[8.195,8.165,8.205,8.235,8.275,8.305],[8.205,8.165,8.205,8.245,8.285,8.325],[8.215,8.175,8.215,8.255,8.295,8.345],[8.225,8.175,8.215,8.265,8.305,8.345],[8.235,8.185,8.225,8.275,8.315,8.365],[8.245,8.195,8.235,8.285,8.325,8.375],[8.255,8.195,8.245,8.295,8.335,8.385],[8.265,8.205,8.255,8.305,8.345,8.385],[8.275,8.215,8.265,8.315,8.355,8.405],[8.285,8.225,8.275,8.325,8.365,8.415],[8.295,8.235,8.285,8.335,8.375,8.425],[8.305,8.245,8.295,8.345,8.385,8.435],[8.315,8.255,8.305,8.355,8.395,8.445],[8.325,8.265,8.315,8.365,8.405,8.455],[8.335,8.275,8.325,8.375,8.415,8.455],[8.345,8.285,8.335,8.385,8.425,8.475],[8.355,8.295,8.345,8.395,8.435,8.465],[8.365,8.305,8.355,8.405,8.445,8.485],[8.375,8.315,8.365,8.415,8.455,8.495],[8.385,8.325,8.375,8.425,8.465,8.515],[8.395,8.345,8.385,8.435,8.475,8.525],[8.405,8.355,8.395,8.445,8.485,8.525],[8.415,8.365,8.405,8.455,8.495,8.545],[8.425,8.375,8.415,8.465,8.505,8.555],[8.435,8.385,8.425,8.475,8.515,8.555],[8.445,8.395,8.435,8.485,8.525,8.565],[8.455,8.395,8.445,8.495,8.535,8.575],[8.465,8.415,8.455,8.505,8.545,8.585],[8.475,8.435,8.465,8.515,8.555,8.595],[8.485,8.435,8.475,8.525,8.565,8.595],[8.495,8.455,8.485,8.535,8.575,8.605],[8.505,8.465,8.495,8.545,8.585],[8.515,8.475,8.505,8.555,8.595],[8.525,8.485,8.515,8.565,8.605],[8.535,8.495,8.535,8.575,8.615],[8.545,8.515,8.545,8.585,8.625],[8.555,8.525,8.555,8.595,8.635],[8.565,8.535,8.565,8.605,8.645],[8.575,8.545,8.575,8.615,8.645],[8.585,8.555,8.585,8.625,8.655],[8.595,8.575,8.595,8.635,8.665],[8.605,8.585,8.605,8.645,8.675],[8.615,8.585,8.615,8.655,8.685],[8.625,8.605,8.635,8.665,8.695],[8.635,8.615,8.645,8.675,8.705],[8.645,8.625,8.655,8.685,8.715],[8.655,8.645,8.665,8.695,8.725],[8.665,8.645,8.675,8.705,8.735],[8.675,8.665,8.685,8.715,8.745],[8.685,8.665,8.695,8.725,8.755],[8.695,8.685,8.705,8.735,8.765],[8.705,8.695,8.715,8.745,8.775],[8.715,8.705,8.725,8.755,8.785],[8.725,8.715,8.735,8.765,8.795],[8.735,8.725,8.745,8.775,8.805],[8.745,8.735,8.765,8.795,8.815],[8.755,8.745,8.775,8.805,8.825],[8.765,8.755,8.785,8.815,8.835],[8.775,8.765,8.795,8.825,8.855],[8.785,8.775,8.805,8.835,8.875],[8.795,8.795,8.815,8.845,8.885],[8.805,8.805,8.825,8.855,8.895],[8.815,8.815,8.835,8.865,8.895],[8.825,8.825,8.845,8.875,8.905],[8.835,8.835,8.855,8.885,8.915],[8.845,8.845,8.865,8.895,8.925],[8.855,8.855,8.875,8.905,8.935],[8.865,8.855,8.885,8.915,8.945],[8.875,8.875,8.895,8.925,8.955],[8.885,8.885,8.905,8.935,8.965],[8.895,8.885,8.915,8.945,8.975],[8.905,8.895,8.925,8.955,8.985],[8.915,8.905,8.935,8.965,8.995],[8.925,8.915,8.945,8.975,9.005],[8.935,8.925,8.955,8.985,9.015],[8.945,8.935,8.965,8.995,9.025],[8.955,8.945,8.975,9.005,9.035],[8.965,8.945,8.985,9.015,9.045],[8.975,8.955,8.995,9.025,9.055],[8.985,8.965,9.005,9.035,9.065],[8.995,8.975,9.015,9.045,9.075],[9.005,8.985,9.025,9.055,9.085],[9.015,8.995,9.035,9.065,9.095],[9.025,9.005,9.045,9.075,9.105],[9.035,9.015,9.055,9.085,9.115],[9.045,9.035,9.065,9.095,9.115],[9.055,9.045,9.075,9.105,9.125],[9.065,9.055,9.085,9.115,9.135],[9.075,9.065,9.095,9.125,9.145],[9.085,9.075,9.105,9.135,9.155],[9.095,9.085,9.115,9.145,9.165],[9.105,9.095,9.125,9.155,9.175],[9.115,9.105,9.135,9.165,9.185],[9.125,9.115,9.145,9.175,9.195],[9.135,9.125,9.155,9.185,9.205],[9.145,9.135,9.165,9.195,9.215],[9.155,9.145,9.175,9.205,9.225],[9.165,9.155,9.185,9.215,9.235],[9.175,9.165,9.195,9.225,9.245],[9.185,9.175,9.205,9.235],[9.195,9.185,9.215,9.245],[9.205,9.195,9.225,9.255],[9.215,9.205,9.235,9.265],[9.225,9.215,9.245,9.275],[9.235,9.225,9.255,9.275],[9.245,9.235,9.265,9.285],[9.255,9.245,9.275,9.295],[9.265,9.265,9.285,9.305],[9.275,9.275,9.295,9.315],[9.285,9.285,9.305,9.325],[9.295,9.295,9.315,9.335],[9.305,9.315,9.335],[9.315,9.325,9.345],[9.325,9.335,9.355],[9.335,9.345,9.365],[9.345,9.355,9.375],[9.355,9.365,9.385],[9.365,9.375,9.395],[9.375,9.385,9.405],[9.385,9.395,9.415],[9.395,9.405,9.425],[9.405,9.415,9.435],[9.415,9.425,9.445],[9.425,9.435,9.455],[9.435,9.445,9.465,9.485],[9.445,9.455,9.475],[9.455,9.465,9.495],[9.465,9.485,9.505],[9.475,9.495,9.515],[9.485,9.515,9.535],[9.495,9.525,9.545],[9.505,9.545,9.565],
[9.535,9.65],[9.545,9.69],[9.57,9.66],[9.6,9.71],[9.65,9.66],[9.665,9.62],[9.67,9.69],[9.7,9.64],[9.73,9.6],[9.77,9.6],[9.795,9.64],[9.805,9.69],[9.845,9.73],[9.855,9.72],[9.875,9.73],[9.895,9.75],[9.905,9.745],[9.925,9.73],[9.965,9.75],[9.99,9.75]
];
const xTickValues = [8, 8.5, 9, 9.5, 10];
const yTickValues = [8, 8.5, 9, 9.5, 10];
const seriesNames = ["Our Templates", "Larson et al. (2022)", "Hainline et al. (2023)"];
const seriesColors = ["#ff6347", "#6b8e23", "#4682b4"];
const diagonal = [7.7, 10.5];

const L = 171, R = 993, T = 18, B = 819;
const x = d3.scaleLinear().domain([7.8056, 10.396]).range([L, R]);
const y = d3.scaleLinear().domain([7.807, 10.394]).range([B, T]);
const svg = d3.select("#c");
svg.append("defs").append("clipPath").attr("id", "plot").append("rect").attr("x", L).attr("y", T).attr("width", R - L).attr("height", B - T);
const flat = rows => rows.flatMap(r => r.slice(1).map(v => [r[0], v]));
const plot = svg.append("g").attr("clip-path", "url(#plot)");
[[hainline.concat(hainlineExtra), 2], [larson.concat(larsonExtra), 1], [templates.concat(templatesExtra), 0]].forEach(([rows, i]) => {
  plot.append("g").attr("fill", seriesColors[i]).selectAll("circle").data(flat(rows)).join("circle")
    .attr("cx", d => x(d[0])).attr("cy", d => y(d[1])).attr("r", 2.4);
});
plot.append("line").attr("x1", x(diagonal[0])).attr("y1", y(diagonal[0])).attr("x2", x(diagonal[1])).attr("y2", y(diagonal[1]))
  .attr("stroke", "#000").attr("stroke-opacity", 0.75).attr("stroke-width", 4).attr("stroke-dasharray", "15,6.5");

const fs = 39.3;
const style = (g) => { g.selectAll("text").attr("font-size", fs).attr("font-family", "DejaVu Sans").attr("fill", "#000");
  g.selectAll("line").attr("stroke", "#000").attr("stroke-width", 1.7); g.select(".domain").remove(); };
svg.append("g").attr("transform", `translate(0,${B})`).call(d3.axisBottom(x).tickValues(xTickValues).tickFormat(d3.format(".1f")).tickSize(8).tickPadding(12)).call(style);
svg.append("g").attr("transform", `translate(${L},0)`).call(d3.axisLeft(y).tickValues(yTickValues).tickFormat(d3.format(".1f")).tickSize(8).tickPadding(12)).call(style)
  .selectAll("text").attr("dy", "0.40em");
svg.append("rect").attr("x", L).attr("y", T).attr("width", R - L).attr("height", B - T).attr("fill", "none").attr("stroke", "#000").attr("stroke-width", 2);
svg.append("text").attr("x", 582.5).attr("y", 915).attr("text-anchor", "middle").attr("font-size", fs).text("Santa Cruz SAM Redshift");
svg.append("text").attr("transform", "translate(48,418) rotate(-90)").attr("text-anchor", "middle").attr("font-size", fs).text("Redshift Fit");

const lg = svg.append("g");
lg.append("rect").attr("x", 416).attr("y", 615.5).attr("width", 558).attr("height", 185).attr("rx", 8).attr("fill", "#fff").attr("fill-opacity", 0.8).attr("stroke", "#ccc").attr("stroke-width", 2.2);
seriesNames.forEach((n, i) => {
  const cy = 650 + i * 58;
  lg.append("circle").attr("cx", 472).attr("cy", cy).attr("r", 7.2).attr("fill", seriesColors[i]);
  lg.append("text").attr("x", 543).attr("y", cy + 11).attr("font-size", fs).text(n);
});
</script></body></html>
